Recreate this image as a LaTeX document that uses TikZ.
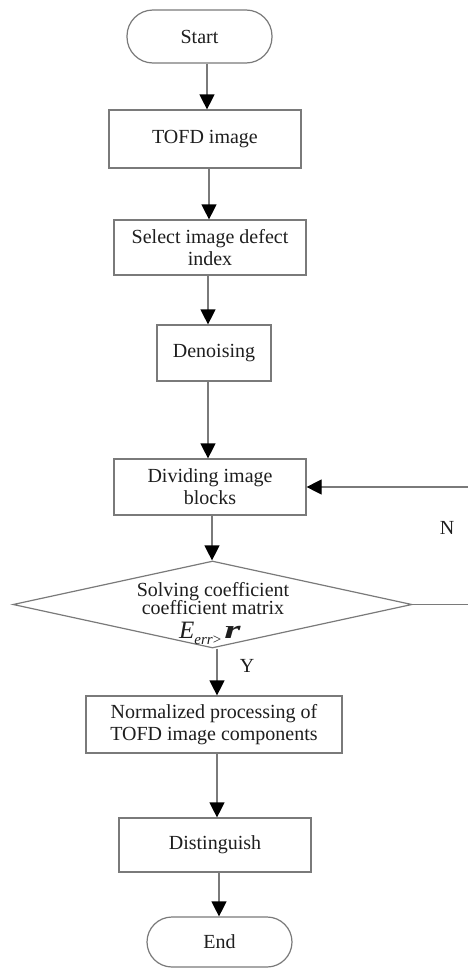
\documentclass[tikz,border=0pt]{standalone}
\usepackage{fontspec}
\usepackage{graphicx}
\setmainfont{Liberation Serif}
\usetikzlibrary{arrows.meta,shapes.geometric}
\definecolor{linegray}{HTML}{7A7A7A}
\definecolor{textc}{HTML}{1E1E1E}
\begin{document}
\begin{tikzpicture}[x=1pt,y=-1pt,
  box/.style={draw=linegray, line width=1.2pt, rectangle, inner sep=0pt, align=center,
    text=textc, font=\fontsize{20}{22}\selectfont},
  term/.style={box, rounded corners=#1},
  txt/.style={inner sep=0pt, text=textc, font=\fontsize{20}{22}\selectfont, anchor=base},
  arr/.style={draw=linegray, line width=1.2pt, -{Triangle[length=15pt,width=15pt,color=black]}}]
\useasboundingbox[fill=white] (0,0) rectangle (468,969);
\node[term=26pt, minimum width=145pt, minimum height=53pt] (start) at (199.5,36.5) {Start};
\node[box, minimum width=192pt, minimum height=58pt] (tofd) at (205,139) {TOFD image};
\node[box, minimum width=192pt, minimum height=55pt] (sel) at (210,247.5) {Select image defect\\index};
\node[box, minimum width=114pt, minimum height=56pt] (den) at (214,353) {Denoising};
\node[box, minimum width=192pt, minimum height=56pt] (div) at (210,487) {Dividing image\\blocks};
\node[shape=diamond, draw=linegray, line width=1.2pt, minimum width=399pt, minimum height=87pt, inner sep=0pt] (dia) at (212.5,604.5) {};
\node[txt] (d1) at (213,596) {Solving coefficient};
\node[txt] (d2) at (213,614.5) {coefficient matrix};
\node[txt, text=textc] (d3) at (210,638.5) {\fontsize{25}{25}\selectfont\textit{E}\raisebox{-6pt}{\fontsize{15}{15}\selectfont\textit{err}>}\hspace{3pt}\scalebox{1.6}[1]{\fontsize{26}{26}\selectfont\textit{\textbf{r}}}};
\node[box, minimum width=256pt, minimum height=57pt] (norm) at (214,724.5) {Normalized processing of\\TOFD image components};
\node[box, minimum width=192pt, minimum height=54pt] (dist) at (215,845) {Distinguish};
\node[term=25pt, minimum width=145pt, minimum height=50pt] (end) at (219.5,942) {End};
\node[txt] (ylab) at (247,672) {Y};
\node[txt] (nlab) at (447,534) {N};
\coordinate (a1) at (207,0);
\coordinate (a2) at (209,0);
\coordinate (a3) at (208,0);
\coordinate (a4) at (208,0);
\coordinate (a5) at (212,0);
\coordinate (a6) at (217,0);
\coordinate (a7) at (217,0);
\coordinate (a8) at (219,0);
\coordinate (loopx) at (474,0);
\draw[arr] (start.south -| a1) -- (tofd.north -| a1);
\draw[arr] (tofd.south -| a2) -- (sel.north -| a2);
\draw[arr] (sel.south -| a3) -- (den.north -| a3);
\draw[arr] (den.south -| a4) -- (div.north -| a4);
\draw[arr] (div.south -| a5) -- (dia.north -| a5);
\draw[arr] (dia.south -| a6) -- (norm.north -| a6);
\draw[arr] (norm.south -| a7) -- (dist.north -| a7);
\draw[arr] (dist.south -| a8) -- (end.north -| a8);
\draw[arr] (dia.east) -- (dia.east -| loopx) -- (div.east -| loopx) -- (div.east);
\end{tikzpicture}
\end{document}
